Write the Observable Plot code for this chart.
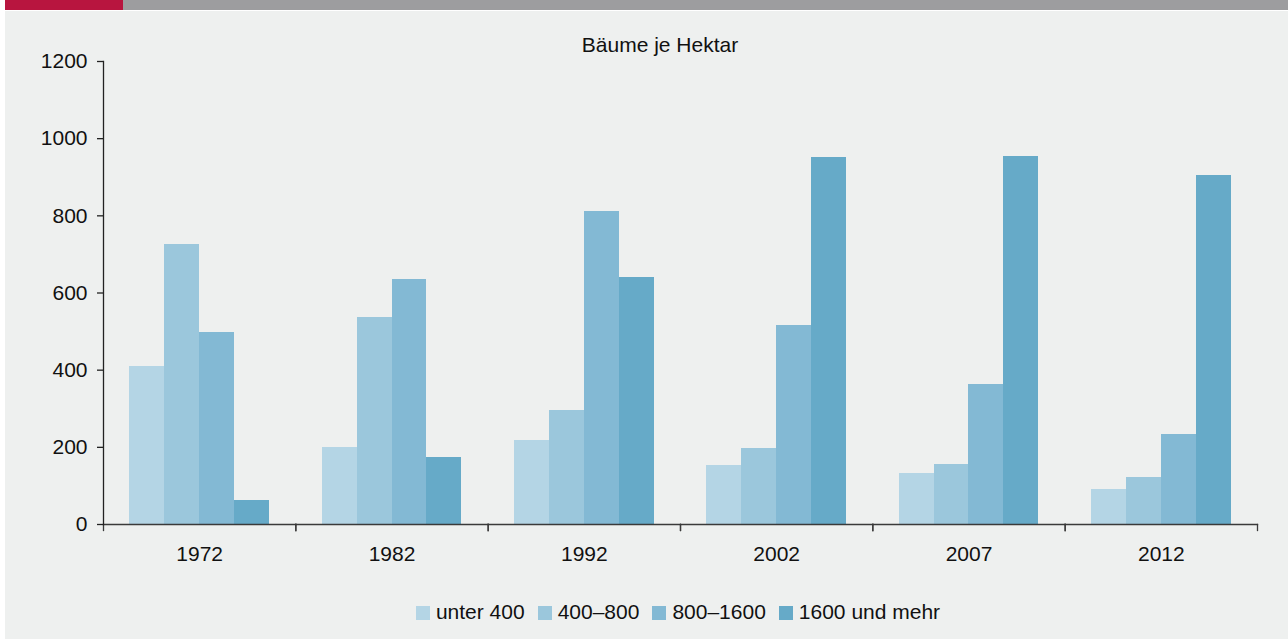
<!DOCTYPE html>
<html>
<head>
<meta charset="utf-8">
<script src="https://cdn.jsdelivr.net/npm/d3@7"></script>
<script src="https://cdn.jsdelivr.net/npm/@observablehq/plot@0.6"></script>
<style>
  html, body { margin: 0; padding: 0; background: #ffffff; overflow: hidden; }
  body { width: 1288px; height: 639px; position: relative; font-family: "Liberation Sans", Arial, Helvetica, sans-serif; }
  #bg { position: absolute; left: 5px; top: 0; width: 1283px; height: 639px; background: #eef0ef; }
  #barRed { position: absolute; left: 5px; top: 0; width: 118px; height: 10px; background: #b8153f; }
  #barGrey { position: absolute; left: 123px; top: 0; width: 1165px; height: 10px; background: #9d9d9f; }
  #barLine { position: absolute; left: 5px; top: 10px; width: 1283px; height: 1px; background: #ffffff; }
  #title { position: absolute; left: 30px; width: 1260px; top: 33px; text-align: center; font-size: 21px; color: #111; line-height: 24px; }
  #chart { position: absolute; left: 0; top: 0; }
  #legend { position: absolute; left: 48px; width: 1260px; top: 600px; display: flex; justify-content: center; align-items: center; font-size: 21px; color: #111; line-height: 24px; }
  .item { display: flex; align-items: center; margin: 0 6.5px; }
  .sw { width: 14px; height: 14px; margin-right: 6px; margin-top: 2px; }
</style>
</head>
<body>
<div id="bg"></div>
<div id="barRed"></div>
<div id="barGrey"></div>
<div id="barLine"></div>
<div id="title">Bäume je Hektar</div>
<div id="chart"></div>
<div id="legend"></div>
<script>
const years = ["1972", "1982", "1992", "2002", "2007", "2012"];
const categories = ["unter 400", "400–800", "800–1600", "1600 und mehr"];
const unter400 = [410, 200, 218, 153, 132, 91];
const von400bis800 = [726, 537, 295, 197, 156, 122];
const von800bis1600 = [498, 635, 811, 516, 363, 233];
const ab1600 = [62, 174, 640, 951, 954, 905];
const yTicks = [0, 200, 400, 600, 800, 1000, 1200];
const colors = ["#b4d5e5", "#9bc7dc", "#83b9d4", "#66aac8"];

const seriesList = [unter400, von400bis800, von800bis1600, ab1600];
const data = [];
years.forEach((year, i) => {
  categories.forEach((cat, k) => {
    data.push({year, category: cat, value: seriesList[k][i]});
  });
});

const W = 1288, H = 600, mt = 61, mb = 76, ml = 103, mr = 31;
const innerH = H - mt - mb;
const axisColor = "#3a3a3a";

const chart = Plot.plot({
  width: W,
  height: H,
  marginTop: mt,
  marginBottom: mb,
  marginLeft: ml,
  marginRight: mr,
  style: {background: "transparent", fontFamily: "'Liberation Sans', Arial, Helvetica, sans-serif", fontSize: "21px", color: "#111"},
  fx: {domain: years, padding: 0, label: null, round: false},
  x: {domain: categories, paddingInner: 0, paddingOuter: 0.75, axis: null, round: false},
  y: {domain: [0, 1200], label: null},
  color: {domain: categories, range: colors},
  marks: [
    Plot.barY(data, {fx: "year", x: "category", y: "value", fill: "category", shapeRendering: "crispEdges"}),
    Plot.frame({anchor: "bottom", stroke: axisColor, strokeWidth: 1.3}),
    Plot.frame({anchor: "left", insetTop: innerH, insetBottom: -6, stroke: axisColor, strokeWidth: 1.3}),
    Plot.frame({anchor: "right", insetTop: innerH, insetBottom: -6, stroke: axisColor, strokeWidth: 1.3}),
    Plot.frame({anchor: "left", fx: () => years[0], stroke: "#222", strokeWidth: 1.3}),
    Plot.axisY({ticks: yTicks, tickFormat: (d) => String(d), tickSize: 6, tickPadding: 10, label: null, fontSize: 21, stroke: "#222", strokeWidth: 1.3}),
    Plot.axisFx({anchor: "bottom", tickSize: 0, tickPadding: 22, label: null, fontSize: 21})
  ]
});
document.getElementById("chart").appendChild(chart);

const legend = document.getElementById("legend");
categories.forEach((cat, k) => {
  const item = document.createElement("div");
  item.className = "item";
  const sw = document.createElement("span");
  sw.className = "sw";
  sw.style.background = colors[k];
  const label = document.createElement("span");
  label.textContent = cat;
  item.appendChild(sw);
  item.appendChild(label);
  legend.appendChild(item);
});
</script>
</body>
</html>
